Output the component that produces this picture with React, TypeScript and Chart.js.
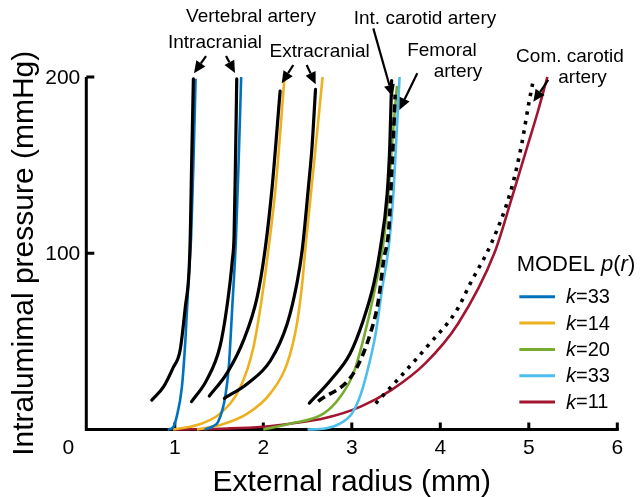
import React, { useEffect, useRef } from "react";
import { Chart, registerables } from "chart.js";

Chart.register(...registerables);

const FONT = '"Liberation Sans", Arial, Helvetica, sans-serif';

// axis ticks
const radiusTicks = [1, 2, 3, 4, 5, 6];
const pressureTicks = [100, 200];

// measured pressure–radius curves: [external radius (mm), pressure (mmHg)]
const vertIntraAExp: [number, number][] = [[0.74, 16.7], [0.87, 24], [0.98, 35], [1.06, 45], [1.12, 70], [1.16, 89], [1.175, 110], [1.19, 150], [1.21, 199]];
const vertIntraBExp: [number, number][] = [[1.19, 15.8], [1.36, 28], [1.51, 47], [1.59, 70], [1.65, 96], [1.67, 110], [1.685, 150], [1.7, 199]];
const vertExtraAExp: [number, number][] = [[1.39, 19], [1.59, 32], [1.78, 51], [1.93, 75], [2.02, 102], [2.1, 137.6], [2.19, 192]];
const vertExtraBExp: [number, number][] = [[1.56, 17.7], [1.82, 26], [2.08, 39], [2.27, 60], [2.38, 83], [2.44, 102], [2.51, 137.6], [2.55, 160], [2.59, 193]];
const intCarotidExp: [number, number][] = [[2.52, 15], [2.76, 28], [2.98, 43], [3.13, 62], [3.25, 83], [3.32, 102], [3.4, 134], [3.43, 162], [3.45, 198]];
const femoralExp: [number, number][] = [[2.62, 16], [3.02, 32], [3.21, 54.5], [3.3, 73], [3.36, 96], [3.42, 115], [3.45, 145], [3.47, 166], [3.49, 190]];
const comCarotidExp: [number, number][] = [[3.27, 14.8], [3.55, 30], [3.85, 47], [4.19, 68], [4.34, 83], [4.58, 106], [4.8, 136], [4.92, 162], [5.0, 185], [5.05, 198]];

// model curves p(r)
const vertIntraAModel: [number, number][] = [[0.92, 0], [0.98, 1.2], [1.02, 7], [1.08, 24], [1.12, 51], [1.155, 85], [1.185, 110], [1.21, 150], [1.235, 199]];
const vertIntraBModel: [number, number][] = [[1.34, 0], [1.43, 1.8], [1.49, 4.4], [1.57, 18.6], [1.61, 35.6], [1.65, 70], [1.69, 107], [1.72, 150], [1.75, 200]];
const vertExtraAModel: [number, number][] = [[0.98, 0], [1.25, 2.5], [1.51, 9], [1.74, 24], [1.89, 47], [1.985, 75], [2.07, 107], [2.14, 137.6], [2.24, 200]];
const vertExtraBModel: [number, number][] = [[1.25, 0], [1.51, 2.5], [1.82, 9], [2.08, 20.5], [2.27, 37.5], [2.38, 60], [2.44, 83], [2.48, 105], [2.575, 152], [2.67, 200]];
const intCarotidModel: [number, number][] = [[2.0, 0], [2.3, 3.3], [2.68, 9], [2.87, 18.6], [3.02, 32], [3.13, 51], [3.25, 77], [3.36, 107], [3.4, 126], [3.455, 162], [3.51, 195]];
const femoralModel: [number, number][] = [[2.5, 0], [2.7, 0.6], [2.87, 3.5], [3.0, 9], [3.08, 17], [3.17, 32], [3.27, 54.5], [3.34, 79], [3.42, 105], [3.47, 134], [3.5, 162], [3.54, 200]];
const comCarotidModel: [number, number][] = [[1.0, 0], [1.6, 0.6], [2.0, 1.6], [2.3, 3.3], [2.7, 6.5], [3.1, 13], [3.45, 22.5], [3.83, 37.5], [4.2, 60], [4.61, 100], [4.8, 130], [4.98, 160], [5.1, 180], [5.21, 200]];

// model stiffness values shown in the legend
const modelK = ["33", "14", "20", "33", "11"];

const BLUE = "#0072BD";
const ORANGE = "#EDB120";
const GREEN = "#77AC30";
const LIGHTBLUE = "#4DBEEE";
const RED = "#A2142F";
const legendColors = [BLUE, ORANGE, GREEN, LIGHTBLUE, RED];

// callout labels in data units: [text, r, p]
const calloutTexts: [string, number, number][] = [
  ["Vertebral artery", 1.861, 234.2],
  ["Intracranial", 1.454, 219.5],
  ["Extracranial", 2.637, 214.4],
  ["Int. carotid artery", 3.827, 233.3],
  ["Femoral", 4.019, 214.9],
  ["artery", 4.2, 203.0],
  ["Com. carotid", 5.465, 211.5],
  ["artery", 5.607, 199.3],
];

// callout arrows in data units: [r0, p0, r1, p1] (tail -> head)
const calloutArrows: [number, number, number, number][] = [
  [1.353, 211.9, 1.217, 202.1],
  [1.579, 211.9, 1.68, 202.3],
  [2.339, 206.8, 2.208, 196.4],
  [2.49, 206.8, 2.592, 195.9],
  [3.243, 227.6, 3.462, 188.8],
  [3.74, 202.1, 3.537, 181.3],
  [5.22, 198.3, 5.051, 186.0],
];

const toXY = (pts: [number, number][]) => pts.map(([x, y]) => ({ x, y }));

function expSet(label: string, pts: [number, number][], dash: number[] = [], cap: CanvasLineCap = "round") {
  return {
    label,
    data: toXY(pts),
    borderColor: "#000000",
    borderWidth: dash.length ? 3.6 : 3.2,
    borderDash: dash,
    borderCapStyle: cap,
    pointRadius: 0,
    cubicInterpolationMode: "monotone" as const,
    clip: false as const,
  };
}

function modelSet(label: string, pts: [number, number][], color: string) {
  return {
    label,
    data: toXY(pts),
    borderColor: color,
    borderWidth: 2.6,
    pointRadius: 0,
    cubicInterpolationMode: "monotone" as const,
    clip: false as const,
  };
}

function drawArrow(ctx: CanvasRenderingContext2D, x0: number, y0: number, x1: number, y1: number) {
  const ang = Math.atan2(y1 - y0, x1 - x0);
  const headLen = 12;
  const headW = 5.5;
  const bx = x1 - headLen * Math.cos(ang);
  const by = y1 - headLen * Math.sin(ang);
  ctx.beginPath();
  ctx.moveTo(x0, y0);
  ctx.lineTo(bx, by);
  ctx.lineWidth = 2.2;
  ctx.strokeStyle = "#000";
  ctx.stroke();
  ctx.beginPath();
  ctx.moveTo(x1, y1);
  ctx.lineTo(bx + headW * Math.sin(ang), by - headW * Math.cos(ang));
  ctx.lineTo(bx - headW * Math.sin(ang), by + headW * Math.cos(ang));
  ctx.closePath();
  ctx.fillStyle = "#000";
  ctx.fill();
}

// draws text made of [string, italic] runs starting at x
function drawRuns(ctx: CanvasRenderingContext2D, runs: [string, boolean][], x: number, y: number, size: number) {
  let cx = x;
  for (const [t, it] of runs) {
    ctx.font = `${it ? "italic " : ""}${size}px ${FONT}`;
    ctx.fillText(t, cx, y);
    cx += ctx.measureText(t).width;
  }
}

const decorPlugin = {
  id: "decor",
  beforeDatasetsDraw(chart: any) {
    const ctx: CanvasRenderingContext2D = chart.ctx;
    const xs = chart.scales.x;
    const ys = chart.scales.y;
    const left = xs.getPixelForValue(0);
    const right = xs.getPixelForValue(6);
    const bottom = ys.getPixelForValue(0);
    const top = ys.getPixelForValue(200);
    ctx.save();
    ctx.strokeStyle = "#000";
    ctx.lineWidth = 3;
    ctx.lineCap = "butt";
    ctx.beginPath();
    ctx.moveTo(left, top);
    ctx.lineTo(left, bottom + 1.5);
    ctx.moveTo(left - 1.5, bottom);
    ctx.lineTo(right + 1.5, bottom);
    ctx.stroke();
    // inward tick marks
    ctx.beginPath();
    for (const t of radiusTicks) {
      const px = xs.getPixelForValue(t);
      ctx.moveTo(px, bottom);
      ctx.lineTo(px, bottom - 7);
    }
    for (const t of pressureTicks) {
      const py = ys.getPixelForValue(t);
      ctx.moveTo(left, py);
      ctx.lineTo(left + 8, py);
    }
    ctx.stroke();
    ctx.restore();
  },
  afterDatasetsDraw(chart: any) {
    const ctx: CanvasRenderingContext2D = chart.ctx;
    const xs = chart.scales.x;
    const ys = chart.scales.y;
    const left = xs.getPixelForValue(0);
    const bottom = ys.getPixelForValue(0);
    ctx.save();
    ctx.fillStyle = "#000";

    // tick labels
    ctx.font = `21px ${FONT}`;
    ctx.textAlign = "center";
    ctx.textBaseline = "middle";
    for (const t of radiusTicks) {
      ctx.fillText(String(t), xs.getPixelForValue(t), bottom + 19);
    }
    ctx.fillText("0", left - 18, bottom + 19);
    ctx.textAlign = "right";
    for (const t of pressureTicks) {
      ctx.fillText(String(t), left - 6, ys.getPixelForValue(t) + 1);
    }

    // axis titles
    ctx.font = `30px ${FONT}`;
    ctx.textAlign = "center";
    ctx.textBaseline = "alphabetic";
    ctx.fillText("External radius (mm)", (xs.getPixelForValue(0) + xs.getPixelForValue(6)) / 2, bottom + 61);
    ctx.save();
    ctx.translate(33, (ys.getPixelForValue(0) + ys.getPixelForValue(200)) / 2);
    ctx.rotate(-Math.PI / 2);
    ctx.font = `30px ${FONT}`;
    ctx.fillText("Intralumimal pressure (mmHg)", 0, 0);
    ctx.restore();

    // callouts
    ctx.font = `19px ${FONT}`;
    ctx.textAlign = "center";
    ctx.textBaseline = "middle";
    for (const [t, r, p] of calloutTexts) {
      ctx.fillText(t, xs.getPixelForValue(r), ys.getPixelForValue(p));
    }
    for (const [r0, p0, r1, p1] of calloutArrows) {
      drawArrow(ctx, xs.getPixelForValue(r0), ys.getPixelForValue(p0), xs.getPixelForValue(r1), ys.getPixelForValue(p1));
    }

    // model legend
    ctx.textAlign = "left";
    ctx.textBaseline = "middle";
    const lx = xs.getPixelForValue(4.863);
    const ty = ys.getPixelForValue(93.3);
    drawRuns(ctx, [["MODEL ", false], ["p", true], ["(", false], ["r", true], [")", false]], lx, ty, 22);
    const lineX0 = xs.getPixelForValue(4.893);
    const lineX1 = xs.getPixelForValue(5.296);
    const textX = xs.getPixelForValue(5.42);
    const firstRow = ys.getPixelForValue(75.3);
    const rowStep = 26.3;
    modelK.forEach((k, i) => {
      const y = firstRow + i * rowStep;
      ctx.beginPath();
      ctx.moveTo(lineX0, y);
      ctx.lineTo(lineX1, y);
      ctx.strokeStyle = legendColors[i];
      ctx.lineWidth = 3;
      ctx.stroke();
      ctx.fillStyle = "#000";
      drawRuns(ctx, [["k", true], ["=" + k, false]], textX, y + 1, 20);
    });
    ctx.restore();
  },
};

export default function App() {
  const canvasRef = useRef<HTMLCanvasElement | null>(null);

  useEffect(() => {
    const canvas = canvasRef.current;
    if (!canvas) return;
    const chart = new Chart(canvas, {
      type: "line",
      data: {
        datasets: [
          expSet("Intracranial vertebral A", vertIntraAExp),
          expSet("Intracranial vertebral B", vertIntraBExp),
          expSet("Extracranial vertebral A", vertExtraAExp),
          expSet("Extracranial vertebral B", vertExtraBExp),
          expSet("Int. carotid artery", intCarotidExp),
          expSet("Femoral artery", femoralExp, [8, 5], "butt"),
          expSet("Com. carotid artery", comCarotidExp, [3.5, 6], "butt"),
          modelSet("k=33 intracranial A", vertIntraAModel, BLUE),
          modelSet("k=33 intracranial B", vertIntraBModel, BLUE),
          modelSet("k=14 extracranial A", vertExtraAModel, ORANGE),
          modelSet("k=14 extracranial B", vertExtraBModel, ORANGE),
          modelSet("k=20 int. carotid", intCarotidModel, GREEN),
          modelSet("k=33 femoral", femoralModel, LIGHTBLUE),
          modelSet("k=11 com. carotid", comCarotidModel, RED),
        ],
      },
      options: {
        responsive: false,
        animation: false,
        devicePixelRatio: 1,
        layout: { padding: { left: 86.3, right: 23.7, top: 77, bottom: 67.5 } },
        scales: {
          x: { type: "linear", min: 0, max: 6, display: false },
          y: { type: "linear", min: 0, max: 200, display: false },
        },
        plugins: {
          legend: { display: false },
          tooltip: { enabled: false },
        },
      },
      plugins: [decorPlugin],
    });
    return () => chart.destroy();
  }, []);

  return (
    <div style={{ position: "fixed", left: 0, top: 0, width: 641, height: 497, background: "#fff" }}>
      <canvas ref={canvasRef} width={641} height={497} style={{ display: "block" }} />
    </div>
  );
}
